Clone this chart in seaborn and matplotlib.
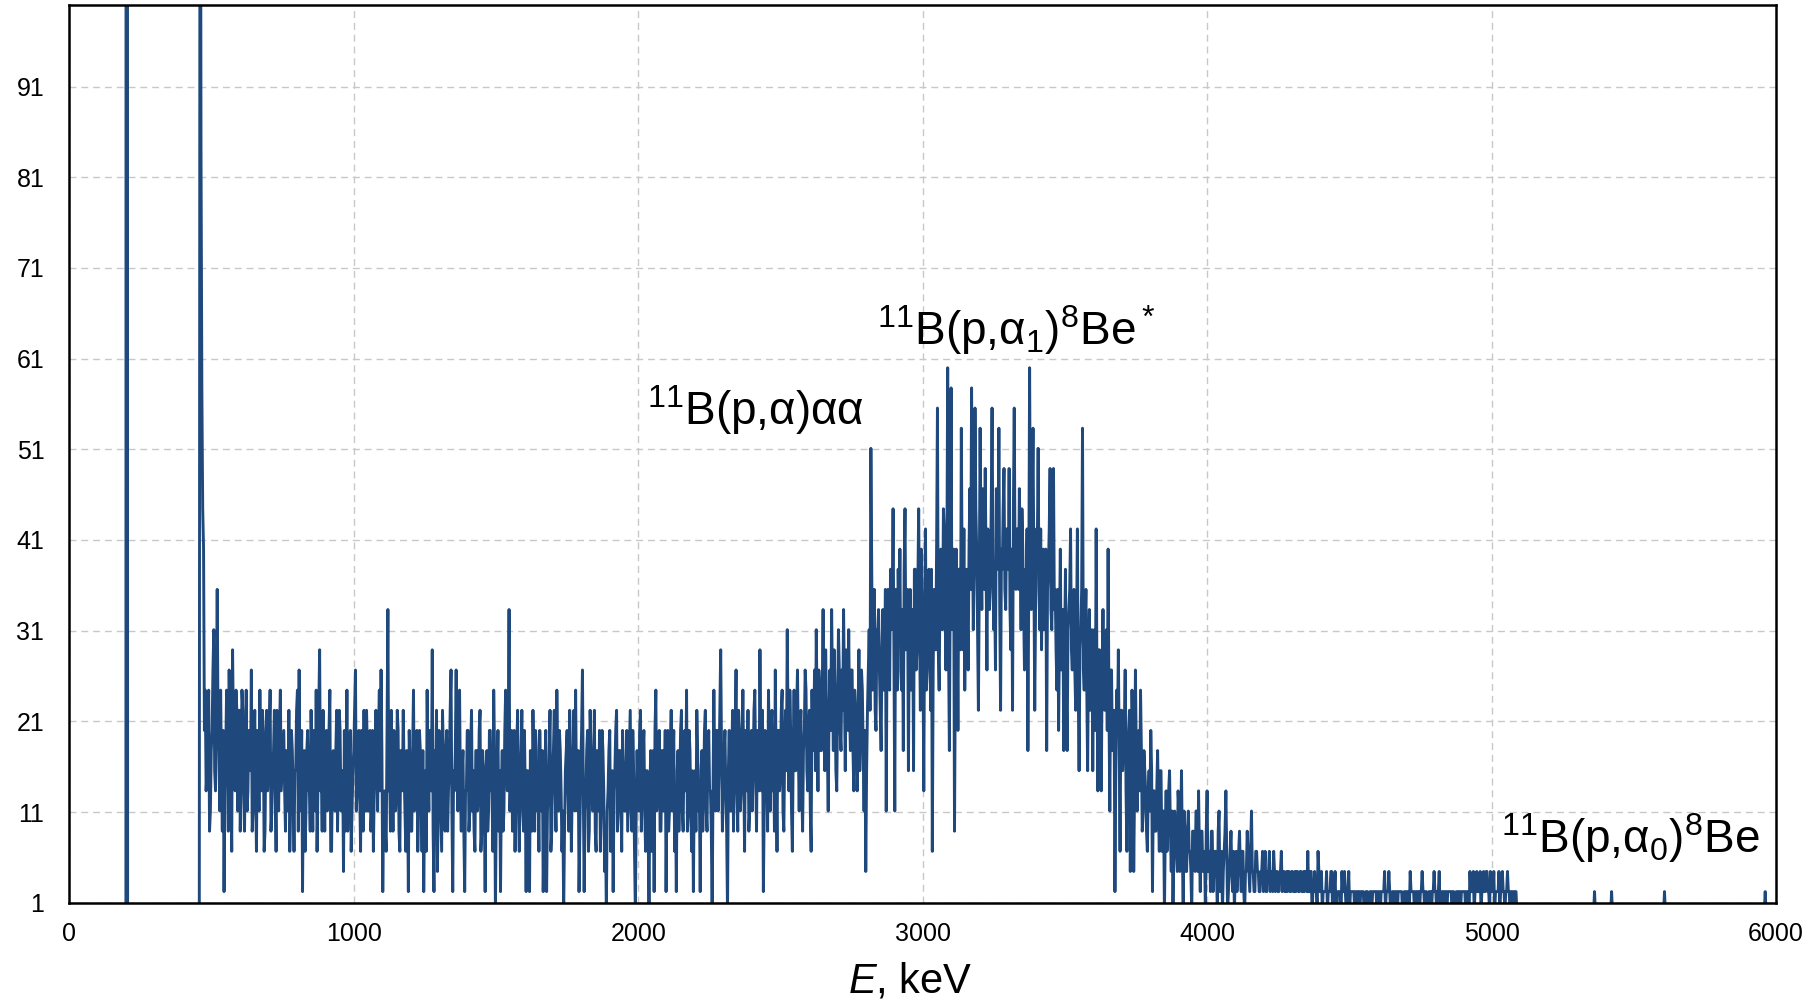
import numpy as np
import pandas as pd
import matplotlib
matplotlib.use("Agg")
import matplotlib.pyplot as plt
import seaborn as sns

# ---------------- data ----------------
CH_WIDTH = 3.0          # keV per channel
MAIN_START = 454.0      # keV of first channel of the main spectrum
COUNT_SCALE = 2.222     # plotted value per count

pulser_energy = [199, 202, 205]
pulser_counts = [0, 400, 0]

counts_454 = [0,0, 70,38, 26,20, 18,9, 11,6, 7,9, 11,4, 5,8, 9,12, 14,7, 6,10, 16,9, 8,5, 11,7, 4,9,
              1,6, 8,11, 9,4, 12,8, 7,3, 13,9, 8,6, 11,10, 5,7, 10,4, 7,11, 10,6, 4,8, 11,5, 6,9,
              9,7, 12,4, 5,8, 10,6, 3,9, 8,5, 11,7, 6,10, 9,3, 4,8, 10,6, 7,9, 11,4, 5,7, 8,10,
              6,3, 10,7, 5,9, 11,6, 7,8]
counts_754 = [9,6, 4,8, 7,5, 10,3, 5,9, 8,6, 3,7, 7,10, 11,4, 12,5, 6,9, 1,7, 8,3, 5,8, 9,6,
              6,4, 10,7, 4,9, 8,5, 11,3, 6,10, 13,6, 7,4, 10,7, 4,8, 9,5, 6,9, 11,3, 3,7, 8,6,
              5,8, 10,4, 7,10, 9,5, 6,7, 2,9, 4,6, 11,4, 7,8, 9,3, 5,7, 8,10, 12,5, 6,8, 9,6,
              3,9, 7,4, 10,6, 5,10, 8,5]
counts_1054 = [7,9, 4,5, 9,3, 6,8, 10,7, 5,9, 11,6, 12,8, 1,5, 6,4, 3,9, 15,6, 7,4, 10,7, 4,9,
               8,5, 6,10, 9,4, 3,8, 7,6, 10,7, 5,3, 8,6, 1,9, 7,4, 4,8, 11,5, 6,7, 9,3, 5,9,
               8,6, 3,8, 1,5, 7,3, 11,7, 5,9, 8,6, 13,4, 1,8, 6,10, 2,5, 9,7, 5,3, 10,8, 6,4,
               8,9, 4,6, 7,10, 12,5, 1,7]
counts_1354 = [6,8, 12,7, 5,9, 11,6, 4,7, 8,4, 1,6, 6,9, 9,4, 5,8, 10,5, 7,4, 3,8, 8,5, 6,9,
               10,3, 4,8, 7,5, 1,7, 8,4, 5,9, 9,6, 6,3, 11,8, 0,5, 7,9, 4,7, 1,6, 8,4, 5,9,
               11,7, 6,8, 15,5, 7,9, 4,6, 9,3, 6,8, 10,5, 3,7, 8,10, 5,4, 9,6, 1,7, 7,5, 1,8,
               6,4, 10,7, 4,9, 8,5, 6,3]
counts_1654 = [9,6, 5,8, 1,4, 7,9, 1,5, 6,8, 10,3, 4,7, 8,10, 6,4, 11,7, 5,9, 8,6, 3,5, 0,4,
               7,8, 9,6, 4,10, 8,3, 6,7, 10,5, 11,6, 5,8, 1,4, 7,9, 12,6, 1,5, 6,8, 9,3, 4,10,
               8,6, 5,7, 10,4, 3,8, 7,5, 9,3, 5,9, 8,6, 2,4, 0,5, 6,8, 9,3, 4,7, 1,6, 7,9,
               10,4, 5,8, 8,6, 3,9, 7,5]
counts_1954 = [5,7, 9,4, 6,8, 10,5, 4,9, 7,3, 0,5, 8,6, 5,9, 10,4, 6,8, 9,5, 3,7, 7,4, 0,6,
               8,3, 5,8, 1,9, 11,5, 6,7, 9,4, 4,8, 8,5, 6,9, 1,6, 9,4, 5,8, 10,5, 7,9, 3,6,
               1,7, 8,4, 6,9, 10,5, 4,8, 9,6, 11,4, 5,9, 8,5, 3,7, 1,6, 7,4, 10,8, 5,6, 1,7,
               8,4, 6,9, 10,5, 4,8, 9,6]
counts_2254 = [6,4, 0,6, 11,7, 5,9, 9,5, 7,10, 13,8, 4,6, 8,9, 6,4, 0,7, 9,5, 5,8, 10,4, 7,9,
               12,6, 4,10, 9,5, 6,8, 11,7, 3,9, 8,6, 10,4, 5,8, 9,5, 7,10, 11,7, 4,9, 8,6, 13,8,
               6,10, 1,5, 9,7, 7,4, 11,8, 5,9, 10,6, 8,4, 12,7, 3,9, 9,6, 7,10, 11,5, 4,8, 10,7,
               14,9, 6,11, 9,5, 3,8, 11,7]
counts_2554 = [7,10, 12,8, 5,9, 10,6, 4,8, 9,12, 11,7, 6,9, 10,5, 3,11, 8,9, 12,7, 14,10, 6,12, 11,8,
               8,11, 15,9, 7,13, 10,8, 5,10, 12,9, 15,11, 8,13, 11,7, 6,10, 14,12, 9,8, 12,10, 15,11, 7,13,
               11,9, 14,10, 8,12, 12,8, 6,11, 10,9, 6,10, 13,7, 9,12, 11,8, 5,9, 2,7, 10,12, 14,10, 23,17,
               11,13, 16,10, 9,14, 14,15, 12,10]
counts_2854 = [8,13, 15,11, 12,16, 5,14, 16,12, 11,17, 14,15, 20,13, 5,16, 13,11, 17,14, 18,12, 11,15, 8,17, 20,13,
               14,16, 7,14, 16,11, 12,15, 7,17, 17,12, 13,16, 20,14, 10,18, 15,13, 6,15, 19,11, 12,16, 17,14, 10,17,
               3,12, 16,15, 13,18, 25,13, 11,16, 18,14, 14,20, 19,15, 12,17, 27,13, 8,16, 26,14, 15,18, 4,12, 18,15,
               9,17, 17,13, 24,16, 13,19, 11,15]
counts_3154 = [17,15, 12,18, 21,16, 26,19, 14,17, 25,20, 18,14, 10,16, 24,18, 15,21, 19,16, 22,17, 12,19, 18,15, 16,20,
               25,18, 14,16, 12,21, 20,17, 24,15, 10,18, 17,20, 22,16, 15,19, 19,17, 22,15, 13,18, 10,20, 25,17, 16,19,
               19,16, 21,18, 14,20, 18,15, 12,17, 16,19, 8,16, 27,18, 15,20, 24,17, 10,15, 19,18, 23,16, 14,19, 13,17,
               18,14, 15,18, 8,16, 17,19, 22,15]
counts_3454 = [14,17, 22,15, 16,13, 11,16, 9,14, 18,12, 13,15, 8,13, 17,11, 8,14, 15,16, 19,13, 12,15, 16,12, 10,14,
               19,11, 7,13, 14,16, 24,12, 11,14, 16,11, 7,13, 15,10, 12,14, 7,12, 14,9, 19,11, 6,13, 13,10, 6,12,
               15,11, 10,13, 14,9, 18,10, 5,12, 12,8, 9,10, 1,7, 11,9, 13,8, 3,10, 10,7, 8,9, 12,6, 3,8,
               9,10, 2,7, 11,9, 2,6, 12,8]
counts_3754 = [5,7, 9,6, 11,8, 4,5, 8,7, 6,4, 3,6, 7,5, 9,7, 1,6, 6,4, 4,6, 8,5, 3,7, 7,3,
               5,5, 0,4, 6,3, 4,6, 7,4, 2,5, 0,3, 5,4, 3,2, 6,5, 2,4, 7,3, 0,5, 4,2, 2,4,
               5,3, 3,2, 0,4, 4,3, 2,5, 5,2, 6,3, 1,4, 4,2, 2,3, 0,4, 6,2, 3,3, 1,4, 4,1,
               2,3, 3,2, 0,4, 5,1, 2,3]
counts_4054 = [0,2, 3,4, 6,3, 0,1, 2,3, 4,2, 1,3, 0,2, 3,1, 2,3, 4,2, 1,3, 3,1, 0,2, 2,4,
               3,2, 1,3, 5,2, 2,1, 1,3, 3,2, 2,1, 1,2, 2,3, 1,2, 3,1, 1,2, 2,3, 1,2, 2,1,
               3,2, 1,2, 2,1, 1,2, 2,3, 1,2, 2,1, 1,2, 1,2, 2,1, 1,2, 2,1, 1,2, 1,2, 2,1,
               1,2, 2,1, 1,2, 1,2, 2,1]
counts_4354 = [3,1, 1,2, 2,0, 1,1, 2,1, 1,0, 3,2, 1,1, 2,0, 1,1, 1,1, 2,0, 1,1, 1,2, 2,0,
               1,1, 2,0, 0,1, 1,1, 1,0, 2,1, 1,2, 1,0, 1,1, 2,0, 1,1, 1,1, 1,0, 1,0, 1,1,
               1,0, 1,1, 1,1, 0,0, 1,1, 1,0, 0,1, 1,0, 1,1, 1,1, 1,0, 1,1, 1,0, 1,1, 1,1,
               2,0, 1,1, 1,2, 1,0, 0,1]
counts_4654 = [1,0, 1,1, 1,0, 1,1, 1,1, 1,0, 0,1, 1,0, 1,1, 1,0, 2,1, 1,1, 1,0, 1,0, 1,1,
               1,0, 1,1, 2,1, 1,0, 1,1, 0,0, 1,1, 1,0, 1,1, 2,1, 1,0, 1,1, 2,0, 0,1, 1,0,
               1,1, 1,0, 1,1, 1,1, 1,0, 1,1, 0,0, 1,0, 1,1, 1,0, 1,1, 1,1, 1,0, 1,1, 1,0,
               2,1, 1,1, 2,0, 1,1, 2,1]
counts_4954 = [1,1, 2,0, 1,1, 2,1, 1,2, 2,1, 1,0, 2,1, 1,1, 2,0, 1,1, 1,1, 2,0, 1,1, 2,1,
               1,0, 1,1, 2,1, 1,0, 1,1, 1,0, 1,1, 1,0, 0,0]

tail_event_energy = [5362, 5422, 5608, 5962]
tail_event_counts = [1, 1, 1, 1]

annotations = [
    (r"$^{11}$B(p,α)αα", 2031, 53.7),
    (r"$^{11}$B(p,α$_1$)$^8$Be$^*$", 2838, 62.5),
    (r"$^{11}$B(p,α$_0$)$^8$Be", 5032, 6.5),
]

x_ticks = [0, 1000, 2000, 3000, 4000, 5000, 6000]
y_ticks = [1, 11, 21, 31, 41, 51, 61, 71, 81, 91]

# ---------------- assemble ----------------
main_counts = (counts_454 + counts_754 + counts_1054 + counts_1354 + counts_1654 +
               counts_1954 + counts_2254 + counts_2554 + counts_2854 + counts_3154 +
               counts_3454 + counts_3754 + counts_4054 + counts_4354 + counts_4654 +
               counts_4954)
main_energy = MAIN_START + CH_WIDTH * np.arange(len(main_counts))

tail_E, tail_C = [], []
for e, c in zip(tail_event_energy, tail_event_counts):
    tail_E += [e - CH_WIDTH, e, e + CH_WIDTH]
    tail_C += [0, c, 0]

energy = np.concatenate([pulser_energy, main_energy, tail_E])
counts = np.concatenate([pulser_counts, main_counts, tail_C]).astype(float)
df = pd.DataFrame({"E": energy, "value": counts * COUNT_SCALE})

# ---------------- style ----------------
sns.set_theme(style="white")
plt.rcParams["font.family"] = ["Liberation Sans", "DejaVu Sans"]
plt.rcParams["mathtext.fontset"] = "custom"
plt.rcParams["mathtext.rm"] = "Liberation Sans"
plt.rcParams["mathtext.it"] = "Liberation Sans:italic"
plt.rcParams["mathtext.bf"] = "Liberation Sans:bold"

W, H = 1811, 1007
fig = plt.figure(figsize=(W / 100, H / 100), dpi=100)
ax = fig.add_axes([69.3 / W, 1 - 902.7 / H, 1706.7 / W, 897.7 / H])

LINE_COLOR = "#1F497D"
sns.lineplot(data=df, x="E", y="value", ax=ax, color=LINE_COLOR, linewidth=2.1,
             estimator=None, legend=False)

ax.set_xlim(0, 6000)
ax.set_ylim(1, 100)
ax.set_xticks(x_ticks)
ax.set_yticks(y_ticks)
ax.set_xticklabels([str(t) for t in x_ticks])
ax.set_yticklabels([str(t) for t in y_ticks])
ax.tick_params(axis="both", length=0, labelsize=18, colors="black")
ax.tick_params(axis="y", pad=18)
ax.tick_params(axis="x", pad=14)

ax.grid(True, color="#C8C8C8", linestyle=(0, (5, 3.5)), linewidth=1.0)
ax.set_axisbelow(True)
for s in ax.spines.values():
    s.set_color("black")
    s.set_linewidth(1.8)
    s.set_visible(True)

ax.set_ylabel("")
ax.set_xlabel(r"$E$, keV", fontsize=30, color="black")
ax.xaxis.set_label_coords(0.4926, -0.066)

for txt, xe, yv in annotations:
    ax.text(xe, yv, txt, fontsize=33, ha="left", va="baseline", color="black")

fig.savefig("out.png", dpi=100)
